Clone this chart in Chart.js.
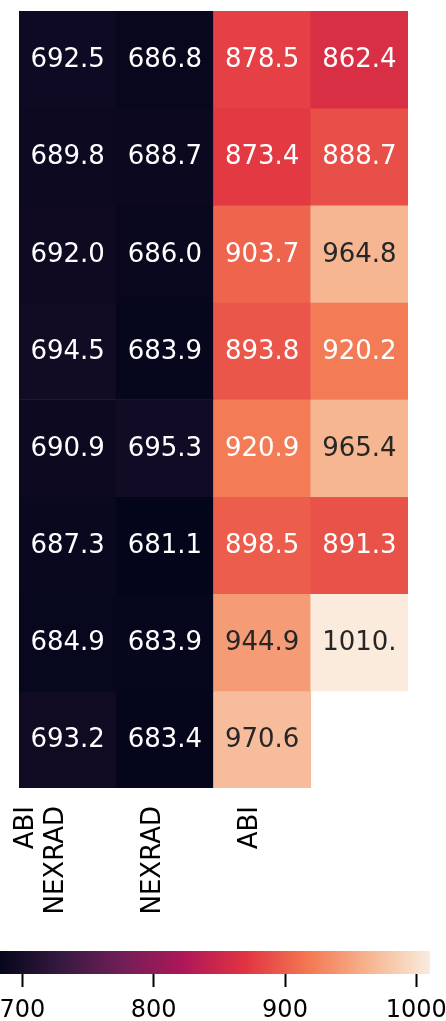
<!DOCTYPE html>
<html>
<head>
<meta charset="utf-8">
<script src="https://cdn.jsdelivr.net/npm/chart.js@4/dist/chart.umd.min.js"></script>
<style>
    html, body { margin: 0; padding: 0; background: #fff; overflow: hidden; width: 446px; height: 1021px; }
    #heat { position: absolute; left: 0; top: 0; }
    #barra { position: absolute; left: -40px; top: 930px; }
</style>
</head>
<body>
<canvas id="heat" width="446" height="930"></canvas>
<canvas id="barra" width="520" height="91"></canvas>
<script>
// dados (linhas de cima para baixo, colunas da esquerda para a direita)
const colunas = [["ABI", "NEXRAD"], ["NEXRAD"], ["ABI"], [""]];
const linha1 = [692.5, 686.8, 878.5, 862.4];
const linha2 = [689.8, 688.7, 873.4, 888.7];
const linha3 = [692.0, 686.0, 903.7, 964.8];
const linha4 = [694.5, 683.9, 893.8, 920.2];
const linha5 = [690.9, 695.3, 920.9, 965.4];
const linha6 = [687.3, 681.1, 898.5, 891.3];
const linha7 = [684.9, 683.9, 944.9, 1010.4];
const linha8 = [693.2, 683.4, 970.6, null];
const linhas = [linha1, linha2, linha3, linha4, linha5, linha6, linha7, linha8];
const ticksBarra = [700, 800, 900, 1000];

// paleta "rocket"
const rocket = ["#03051a", "#35193e", "#701f57", "#ad1759", "#e13342", "#f37651", "#f6b48f", "#faebdd"];

const todos = linhas.flat().filter(v => v !== null);
const vmin = Math.min(...todos);
const vmax = Math.max(...todos);

function hexRgb(h) {
    return [parseInt(h.slice(1, 3), 16), parseInt(h.slice(3, 5), 16), parseInt(h.slice(5, 7), 16)];
}

function corDe(v) {
    let t = (v - vmin) / (vmax - vmin);
    t = Math.max(0, Math.min(1, t));
    const p = t * (rocket.length - 1);
    const i = Math.min(Math.floor(p), rocket.length - 2);
    const f = p - i;
    const a = hexRgb(rocket[i]), b = hexRgb(rocket[i + 1]);
    return a.map((c, k) => Math.round(c + (b[k] - c) * f));
}

function corTexto(v) {
    // mesma regra do seaborn: luminância relativa
    const lum = corDe(v).map(c => {
        c = c / 255;
        return c <= 0.03928 ? c / 12.92 : Math.pow((c + 0.055) / 1.055, 2.4);
    });
    const l = 0.2126 * lum[0] + 0.7152 * lum[1] + 0.0722 * lum[2];
    return l > 0.408 ? "#262626" : "#ffffff";
}

function formata(v) {
    return v.toFixed(1).slice(0, 5);
}

const textoCelulas = {
    id: "textoCelulas",
    afterDatasetsDraw(chart) {
        const ctx = chart.ctx;
        ctx.save();
        ctx.font = "26px 'DejaVu Sans'";
        ctx.textAlign = "center";
        ctx.textBaseline = "alphabetic";
        linhas.forEach((vals, r) => {
            const meta = chart.getDatasetMeta(r);
            vals.forEach((v, c) => {
                if (v === null) return;
                const bar = meta.data[c];
                const meio = (bar.y + bar.base) / 2;
                ctx.fillStyle = corTexto(v);
                ctx.fillText(formata(v), bar.x, meio + 7.7);
            });
        });
        ctx.restore();
    }
};

const rotulosX = {
    id: "rotulosX",
    afterDraw(chart) {
        const ctx = chart.ctx;
        const x = chart.scales.x;
        const topo = chart.chartArea.bottom + 18;
        ctx.save();
        ctx.font = "26px 'DejaVu Sans'";
        ctx.fillStyle = "#000";
        ctx.textAlign = "right";
        ctx.textBaseline = "alphabetic";
        colunas.forEach((linhasRotulo, c) => {
            const px = x.getPixelForValue(c);
            const n = linhasRotulo.length;
            linhasRotulo.forEach((txt, i) => {
                const bx = px - 4.7 - (n - 1 - i) * 30;
                ctx.save();
                ctx.translate(bx, topo);
                ctx.rotate(-Math.PI / 2);
                ctx.fillText(txt, 0, 0);
                ctx.restore();
            });
        });
        ctx.restore();
    }
};

new Chart(document.getElementById("heat"), {
    type: "bar",
    data: {
        labels: colunas.map(l => l.join(" ")),
        datasets: linhas.map((vals, r) => ({
            data: vals.map(v => v === null ? null : [r, r + 1]),
            backgroundColor: vals.map(v => v === null ? "rgba(0,0,0,0)" : "rgb(" + corDe(v).join(",") + ")"),
            borderWidth: 0,
            grouped: false,
            barPercentage: 1,
            categoryPercentage: 1
        }))
    },
    options: {
        responsive: false,
        animation: false,
        events: [],
        layout: { padding: { left: 19, right: 38, top: 11, bottom: 142 } },
        plugins: { legend: { display: false }, tooltip: { enabled: false } },
        scales: {
            x: { display: false },
            y: { display: false, min: 0, max: 8, reverse: true }
        }
    },
    plugins: [textoCelulas, rotulosX]
});

const gradiente = {
    id: "gradiente",
    beforeDatasetsDraw(chart) {
        const { ctx, chartArea } = chart;
        const g = ctx.createLinearGradient(chartArea.left, 0, chartArea.right, 0);
        rocket.forEach((c, i) => g.addColorStop(i / (rocket.length - 1), c));
        ctx.save();
        ctx.fillStyle = g;
        ctx.fillRect(chartArea.left, chartArea.top, chartArea.right - chartArea.left, chartArea.bottom - chartArea.top);
        ctx.restore();
    }
};

// barra de cores: área útil de x=-2.5 a x=430 na página
new Chart(document.getElementById("barra"), {
    type: "scatter",
    data: { datasets: [{ data: [] }] },
    options: {
        responsive: false,
        animation: false,
        events: [],
        layout: { padding: { left: 37.5, right: 50, top: 21, bottom: 0 } },
        plugins: { legend: { display: false }, tooltip: { enabled: false } },
        scales: {
            x: {
                type: "linear",
                min: vmin,
                max: vmax,
                afterBuildTicks: axis => { axis.ticks = ticksBarra.map(v => ({ value: v })); },
                afterFit: axis => { axis.height = 47; },
                border: { display: false },
                grid: { drawOnChartArea: false, drawTicks: true, tickLength: 13, tickColor: "#000", tickWidth: 2 },
                ticks: {
                    color: "#000",
                    padding: 9,
                    maxRotation: 0,
                    callback: v => String(v),
                    font: { family: "'DejaVu Sans'", size: 24 }
                }
            },
            y: { display: false }
        }
    },
    plugins: [gradiente]
});
</script>
</body>
</html>
